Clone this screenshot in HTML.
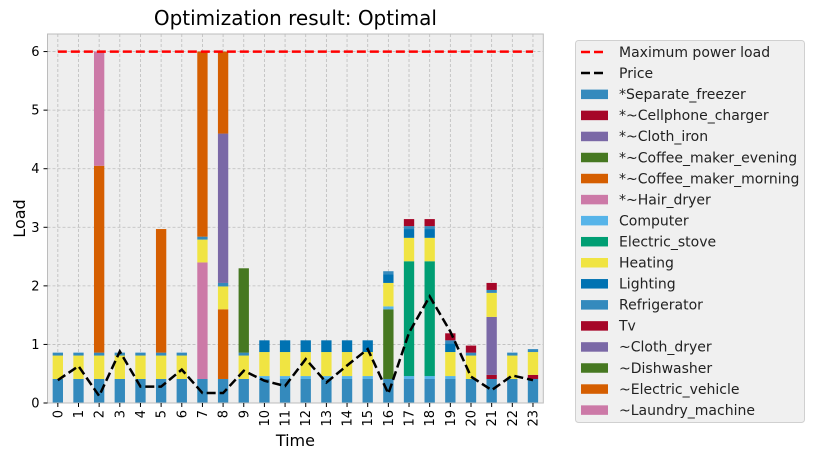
<!DOCTYPE html>
<html><head><meta charset="utf-8"><style>
body{margin:0;background:#fff;font-family:"DejaVu Sans","Liberation Sans",sans-serif}
svg text{font-family:"DejaVu Sans","Liberation Sans",sans-serif}
</style></head><body>
<svg id="chart" width="815" height="459" viewBox="0 0 815 459"></svg>
<script>
const hours = [0,1,2,3,4,5,6,7,8,9,10,11,12,13,14,15,16,17,18,19,20,21,22,23];
const seriesNames = ["*Separate_freezer","*~Cellphone_charger","*~Cloth_iron","*~Coffee_maker_evening","*~Coffee_maker_morning","*~Hair_dryer","Computer","Electric_stove","Heating","Lighting","Refrigerator","Tv","~Cloth_dryer","~Dishwasher","~Electric_vehicle","~Laundry_machine"];
const seriesColors = ["#348ABD","#A60628","#7A68A6","#467821","#D55E00","#CC79A7","#56B4E9","#009E73","#F0E442","#0072B2","#348ABD","#A60628","#7A68A6","#467821","#D55E00","#CC79A7"];
const freezer   = [0.41,0.41,0.41,0.41,0.41,0.41,0.41,0.41,0.41,0.41,0.41,0.41,0.41,0.41,0.41,0.41,0.41,0.41,0.41,0.41,0.41,0.41,0.41,0.41];
const cellphone = [0,0,0,0,0,0,0,0,0,0,0,0,0,0,0,0,0,0,0,0,0,0.07,0,0.07];
const clothIron = [0,0,0,0,0,0,0,0,0,0,0,0,0,0,0,0,0,0,0,0,0,0.99,0,0];
const coffeeEve = [0,0,0,0,0,0,0,0,0,0,0,0,0,0,0,0,1.19,0,0,0,0,0,0,0];
const coffeeMorn= [0,0,0,0,0,0,0,0,1.19,0,0,0,0,0,0,0,0,0,0,0,0,0,0,0];
const hairDryer = [0,0,0,0,0,0,0,1.99,0,0,0,0,0,0,0,0,0,0,0,0,0,0,0,0];
const computer  = [0,0,0,0,0,0,0,0,0,0,0.05,0.05,0.05,0.05,0.05,0.05,0.05,0.05,0.05,0.05,0,0,0,0];
const stove     = [0,0,0,0,0,0,0,0,0,0,0,0,0,0,0,0,0,1.96,1.96,0,0,0,0,0];
const heating   = [0.4,0.4,0.4,0.4,0.4,0.4,0.4,0.39,0.39,0.4,0.41,0.41,0.41,0.41,0.41,0.41,0.4,0.4,0.4,0.41,0.4,0.41,0.4,0.39];
const lighting  = [0,0,0,0,0,0,0,0,0,0,0.2,0.2,0.2,0.2,0.2,0.2,0.15,0.15,0.15,0.15,0,0,0,0];
const fridge    = [0.05,0.05,0.05,0.05,0.05,0.05,0.05,0.05,0.06,0.05,0,0,0,0,0,0,0.05,0.05,0.05,0.05,0.05,0.05,0.05,0.05];
const tv        = [0,0,0,0,0,0,0,0,0,0,0,0,0,0,0,0,0,0.12,0.12,0.12,0.12,0.12,0,0];
const clothDryer= [0,0,0,0,0,0,0,0,2.55,0,0,0,0,0,0,0,0,0,0,0,0,0,0,0];
const dishwasher= [0,0,0,0,0,0,0,0,0,1.44,0,0,0,0,0,0,0,0,0,0,0,0,0,0];
const ev        = [0,0,3.19,0,0,2.11,0,3.16,1.40,0,0,0,0,0,0,0,0,0,0,0,0,0,0,0];
const laundry   = [0,0,1.95,0,0,0,0,0,0,0,0,0,0,0,0,0,0,0,0,0,0,0,0,0];
const price     = [0.39,0.63,0.12,0.88,0.28,0.28,0.57,0.17,0.17,0.55,0.38,0.29,0.75,0.35,0.64,0.92,0.16,1.2,1.82,1.22,0.45,0.22,0.47,0.39];
const maxLoad = 6;
const yTicks = [0,1,2,3,4,5,6];
const allSeries = [freezer,cellphone,clothIron,coffeeEve,coffeeMorn,hairDryer,computer,stove,heating,lighting,fridge,tv,clothDryer,dishwasher,ev,laundry];

const NS="http://www.w3.org/2000/svg";
const svg=document.getElementById('chart');
function mk(tag,attrs,parent){const e=document.createElementNS(NS,tag);for(const k in attrs)e.setAttribute(k,attrs[k]);(parent||svg).appendChild(e);return e;}
const L=47.5,R=543.3,T=34,B=403;
const yMin=0,yMax=6.3;
const xScale=i=>L+(i+0.5)*(R-L)/24;
const yScale=v=>B-(v-yMin)/(yMax-yMin)*(B-T);

let e=mk('rect',{x:L,y:T,width:R-L,height:B-T,fill:'#eeeeee'});



yTicks.forEach(t=>{let g=mk('line',{x1:L,x2:R,y1:yScale(t),y2:yScale(t),stroke:'#bcbcbc','stroke-width':0.8,'stroke-dasharray':'3,2'});

});
hours.forEach((h,i)=>{let g=mk('line',{x1:xScale(i),x2:xScale(i),y1:T,y2:B,stroke:'#bcbcbc','stroke-width':0.8,'stroke-dasharray':'3,2'});

});

const bw=(R-L)/24*0.5;
hours.forEach((h,i)=>{let acc=0;allSeries.forEach((s,k)=>{const v=s[i];if(v>0){const r=mk('rect',{x:xScale(i)-bw/2,y:yScale(acc+v),width:bw,height:yScale(acc)-yScale(acc+v),fill:seriesColors[k]});

}acc+=v;});});

e=mk('line',{x1:xScale(0),x2:xScale(23),y1:yScale(maxLoad),y2:yScale(maxLoad),stroke:'#ff0000','stroke-width':2.5,'stroke-dasharray':'9,4'});


e=mk('polyline',{points:price.map((p,i)=>xScale(i)+','+yScale(p)).join(' '),fill:'none',stroke:'#000','stroke-width':2.5,'stroke-dasharray':'9,4'});



e=mk('rect',{x:L,y:T,width:R-L,height:B-T,fill:'none',stroke:'#bcbcbc','stroke-width':1});



yTicks.forEach(t=>{mk('line',{x1:L-4,x2:L,y1:yScale(t),y2:yScale(t),stroke:'#000','stroke-width':1});
const tx=mk('text',{x:L-8,y:yScale(t)+4.5,'text-anchor':'end','font-size':13,fill:'#000'});tx.textContent=t;

});
hours.forEach((h,i)=>{mk('line',{x1:xScale(i),x2:xScale(i),y1:B,y2:B+4,stroke:'#000','stroke-width':1});
const tx=mk('text',{x:0,y:0,'text-anchor':'end','font-size':13,fill:'#000',transform:`translate(${xScale(i)+4.5},${B+7}) rotate(-90)`});tx.textContent=h;

});

e=mk('text',{x:(L+R)/2,y:446,'text-anchor':'middle','font-size':16,fill:'#000'});e.textContent='Time';


e=mk('text',{x:0,y:0,'text-anchor':'middle','font-size':16,fill:'#000',transform:`translate(25,${(T+B)/2}) rotate(-90)`});e.textContent='Load';


e=mk('text',{x:(L+R)/2,y:25,'text-anchor':'middle','font-size':20,fill:'#000'});e.textContent='Optimization result: Optimal';



const lg=mk('g',{});


mk('rect',{x:575.5,y:40.5,width:229,height:382,rx:3,fill:'#f0f0f0',stroke:'#d0d0d0','stroke-width':1},lg);
const rowY=i=>52+i*21.05;
const entries=[{n:'Maximum power load',line:'#ff0000'},{n:'Price',line:'#000'}].concat(seriesNames.map((n,k)=>({n:n,c:seriesColors[k]})));
entries.forEach((en,i)=>{const g=mk('g',{},lg);


const y=rowY(i);
if(en.line){mk('line',{x1:581,x2:607,y1:y,y2:y,stroke:en.line,'stroke-width':2.5,'stroke-dasharray':'9,4'},g);}
else{mk('rect',{x:581,y:y-4.5,width:27,height:9.5,fill:en.c},g);}
const t=mk('text',{x:619,y:y+5,'font-size':14,fill:'#222'},g);t.textContent=en.n;});
</script>
</body></html>
